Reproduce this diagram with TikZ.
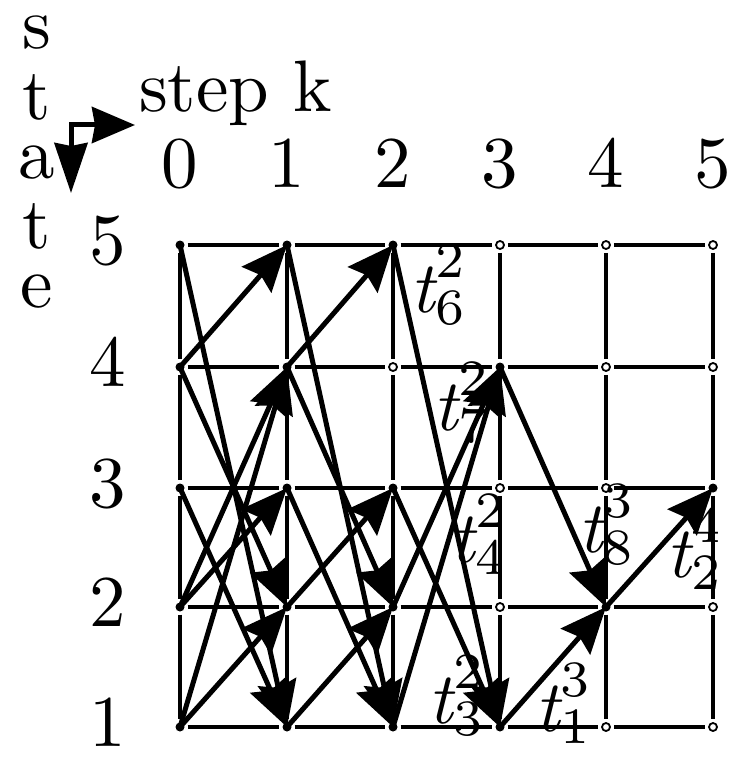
\documentclass[tikz,border=0pt]{standalone}
\usetikzlibrary{arrows.meta}
\font\bigrm="[lmroman10-regular]" at 73pt
\font\bigit="[lmroman10-italic]" at 73pt
\font\scrrm="[lmroman7-regular]" at 51pt
\newcommand\tlab[2]{{\bigit t}\kern1pt\rlap{\raisebox{0.47em}{\scrrm #1}}\raisebox{-0.17em}{\scrrm #2}}
\begin{document}
\begin{tikzpicture}[x=1pt,y=-1pt,
  big/.style={font=\bigrm, inner sep=0pt},
  visited/.style={circle, fill=black, minimum size=9pt, inner sep=0pt},
  unvisited/.style={circle, draw=black, fill=white, line width=1.8pt, minimum size=8pt, inner sep=0pt},
  gridline/.style={line width=3.6pt, shorten >=3pt, shorten <=3pt},
  trans/.style={line width=5pt, -{Stealth[length=46pt,width=39pt,inset=6pt]}},
  icon/.style={line width=5pt, line join=miter}
]
\useasboundingbox (0,0) rectangle (743,757);
% grid positions
\foreach \k/\x in {0/180,1/287,2/393,3/500,4/606,5/713}{
  \foreach \s/\y in {5/245,4/367,3/488,2/607,1/727}{
    \coordinate (p\k\s) at (\x,\y);
  }
}
% reached states
\foreach \n in {05,04,03,02,01,15,14,13,12,11,25,23,22,21,34,31,42,53}{
  \node[visited] (n\n) at (p\n) {};
}
% unreached states
\foreach \n in {24,35,33,32,45,44,43,41,55,54,52,51}{
  \node[unvisited] (n\n) at (p\n) {};
}
% grid lines
\foreach \s in {1,...,5}{
  \foreach \k/\kk in {0/1,1/2,2/3,3/4,4/5}{
    \draw[gridline] (n\k\s) -- (n\kk\s);
  }
}
\foreach \k in {0,...,5}{
  \foreach \s/\ss in {5/4,4/3,3/2,2/1}{
    \draw[gridline] (n\k\s) -- (n\k\ss);
  }
}
% transitions step 0 -> 1
\draw[trans] (n05.center) -- (n11.center);
\draw[trans] (n04.center) -- (n15.center);
\draw[trans] (n04.center) -- (n12.center);
\draw[trans] (n03.center) -- (n11.center);
\draw[trans] (n02.center) -- (n14.center);
\draw[trans] (n02.center) -- (n13.center);
\draw[trans] (n01.center) -- (n14.center);
\draw[trans] (n01.center) -- (n12.center);
% step 1 -> 2
\draw[trans] (n15.center) -- (n21.center);
\draw[trans] (n14.center) -- (n25.center);
\draw[trans] (n14.center) -- (n22.center);
\draw[trans] (n13.center) -- (n21.center);
\draw[trans] (n12.center) -- (n23.center);
\draw[trans] (n11.center) -- (n22.center);
% step 2 -> 3
\draw[trans] (n25.center) -- (n31.center);
\draw[trans] (n23.center) -- (n31.center);
\draw[trans] (n22.center) -- (n34.center);
\draw[trans] (n21.center) -- (n34.center);
% step 3 -> 4
\draw[trans] (n34.center) -- (n42.center);
\draw[trans] (n31.center) -- (n42.center);
% step 4 -> 5
\draw[trans] (n42.center) -- (n53.center);
% labels
\node[big, anchor=base west] (l62) at (410,312) {\tlab{2}{6}};
\node[big, anchor=base west] (l72) at (433,430) {\tlab{2}{7}};
\node[big, anchor=base west] (l42) at (450,562) {\tlab{2}{4}};
\node[big, anchor=base west] (l32) at (428,723) {\tlab{2}{3}};
\node[big, anchor=base west] (l13) at (535,731) {\tlab{3}{1}};
\node[big, anchor=base west] (l83) at (578,552) {\tlab{3}{8}};
\node[big, anchor=base west] (l24) at (666,577) {\tlab{4}{2}};
% axis headings
\node[big, anchor=north] (state) at (37,16) {\vbox{\baselineskip=0pt\lineskip=25pt\lineskiplimit=0pt
  \hbox to 40pt{\hss s\hss}\hbox to 40pt{\hss t\hss}\hbox to 40pt{\hss a\hss}\hbox to 40pt{\hss t\hss}\hbox to 40pt{\hss e\hss}}};
\node[big, anchor=base west] (stepk) at (139,112) {step k};
\foreach \k/\x in {0/180,1/287,2/393,3/500,4/606,5/713}{
  \node[big, anchor=base] (c\k) at (\x,187) {\k};
}
\foreach \s/\y in {5/245,4/367,3/488,2/607,1/727}{
  \node[big, anchor=base] (r\s) at (108,\y+19) {\s};
}
% direction icon
\coordinate (io) at (71,125);
\coordinate (ir) at (135,125);
\coordinate (id) at (71,193);
\draw[icon, {Stealth[length=50pt,width=33pt,inset=3pt]}-{Stealth[length=43pt,width=36pt,inset=3pt]}] (id) -- (io) -- (ir);
\end{tikzpicture}
\end{document}
